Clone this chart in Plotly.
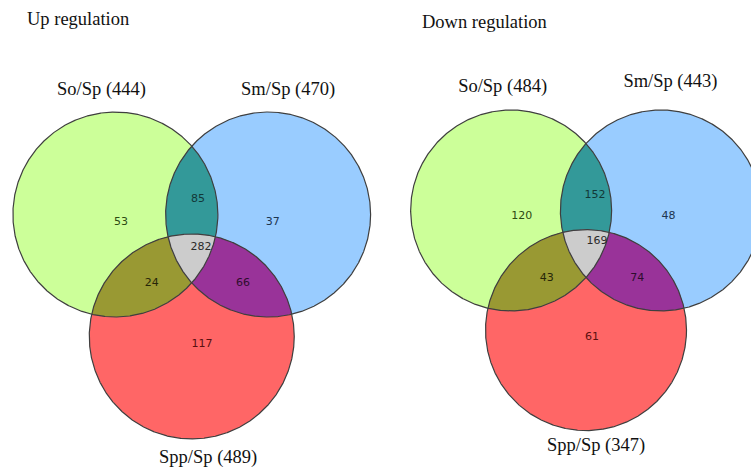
import numpy as np
import plotly.graph_objects as go

# ---------------- data ----------------
panel_titles = ["Up regulation", "Down regulation"]
set_names = ["So/Sp", "Sm/Sp", "Spp/Sp"]
up_totals = [444, 470, 489]
down_totals = [484, 443, 347]
# region order: A only, AB, B only, ABC, AC, BC, C only
region_keys = ["A", "AB", "B", "ABC", "AC", "BC", "C"]
up_counts = [53, 85, 37, 282, 24, 66, 117]
down_counts = [120, 152, 48, 169, 43, 74, 61]

# ---------------- layout / style ----------------
W, H = 751, 471
circle_centers = [(-0.745, 0.0), (0.745, 0.0), (0.0, -1.19)]  # unit radius
fill_single = ["#ccff99", "#99ccff", "#ff6666"]
fill_pair = {"AB": "#339999", "AC": "#999933", "BC": "#993399"}
fill_triple = "#cccccc"
text_colors = {"A": "#2d4a12", "AB": "#123838", "B": "#1d3550", "ABC": "#2a2a2a",
               "AC": "#262608", "BC": "#2e0d2e", "C": "#5a1010"}
# label positions in unit coordinates per panel
label_pos = [
    [(-0.69, -0.08), (0.06, 0.15), (0.79, -0.08), (0.09, -0.32), (-0.39, -0.67), (0.50, -0.67), (0.10, -1.27)],
    [(-0.64, -0.06), (0.09, 0.15), (0.82, -0.06), (0.11, -0.31), (-0.39, -0.67), (0.51, -0.67), (0.06, -1.26)],
]
# pixel anchors for each panel: (origin x px, origin y px, px per unit, panel x0 px, panel x1 px)
panels_px = [(191.75, 214.5, 102.5, 0, 375), (586.0, 210.5, 100.5, 375, 751)]
set_label_pos = [
    [(-0.88, 1.21), (0.94, 1.21), (0.16, -2.38)],
    [(-0.83, 1.23), (0.84, 1.27), (0.10, -2.35)],
]
title_px = [(25, 19), (420, 22)]

t = np.linspace(0, 2 * np.pi, 1441)


def circle_pts(c):
    return np.c_[c[0] + np.cos(t), c[1] + np.sin(t)]


def inside(p, c):
    return (p[:, 0] - c[0]) ** 2 + (p[:, 1] - c[1]) ** 2 <= 1.0 + 1e-9


def intersection(idx):
    pts = []
    for i in idx:
        p = circle_pts(circle_centers[i])
        m = np.ones(len(p), bool)
        for j in idx:
            if j != i:
                m &= inside(p, circle_centers[j])
        pts.append(p[m])
    pts = np.vstack(pts)
    cen = pts.mean(axis=0)
    ang = np.arctan2(pts[:, 1] - cen[1], pts[:, 0] - cen[0])
    pts = pts[np.argsort(ang)]
    return np.vstack([pts, pts[:1]])


fig = go.Figure()

for k in range(2):
    ox, oy, s, x0, x1 = panels_px[k]
    xa = "x" if k == 0 else "x2"
    ya = "y" if k == 0 else "y2"
    counts = up_counts if k == 0 else down_counts
    totals = up_totals if k == 0 else down_totals

    def add_fill(poly, color):
        fig.add_trace(go.Scatter(x=poly[:, 0], y=poly[:, 1], mode="lines", fill="toself",
                                 fillcolor=color, line=dict(width=0), hoverinfo="skip",
                                 showlegend=False, xaxis=xa, yaxis=ya))

    for i in range(3):
        add_fill(circle_pts(circle_centers[i]), fill_single[i])
    add_fill(intersection([0, 1]), fill_pair["AB"])
    add_fill(intersection([0, 2]), fill_pair["AC"])
    add_fill(intersection([1, 2]), fill_pair["BC"])
    add_fill(intersection([0, 1, 2]), fill_triple)
    for i in range(3):
        p = circle_pts(circle_centers[i])
        fig.add_trace(go.Scatter(x=p[:, 0], y=p[:, 1], mode="lines",
                                 line=dict(color="#3f3f3f", width=1.2), hoverinfo="skip",
                                 showlegend=False, xaxis=xa, yaxis=ya))
    # region counts
    fig.add_trace(go.Scatter(
        x=[p[0] for p in label_pos[k]], y=[p[1] for p in label_pos[k]],
        text=[str(v) for v in counts], mode="text",
        textfont=dict(family="DejaVu Sans", size=11,
                      color=[text_colors[r] for r in region_keys]),
        hoverinfo="skip", showlegend=False, xaxis=xa, yaxis=ya))
    # set labels
    fig.add_trace(go.Scatter(
        x=[p[0] for p in set_label_pos[k]], y=[p[1] for p in set_label_pos[k]],
        text=[f"{n} ({v})" for n, v in zip(set_names, totals)], mode="text",
        textfont=dict(family="Liberation Serif", size=18.5, color="#111111"),
        hoverinfo="skip", showlegend=False, xaxis=xa, yaxis=ya))

    xr = [(x0 - ox) / s, (x1 - ox) / s]
    yr = [(oy - H) / s, oy / s]
    axis_common = dict(visible=False, showgrid=False, zeroline=False, fixedrange=True)
    fig.update_layout(**{
        ("xaxis" if k == 0 else "xaxis2"): dict(range=xr, domain=[x0 / W, x1 / W], anchor=ya, **axis_common),
        ("yaxis" if k == 0 else "yaxis2"): dict(range=yr, domain=[0, 1], anchor=xa, **axis_common),
    })
    fig.add_annotation(x=title_px[k][0] / W, y=1 - title_px[k][1] / H, xref="paper", yref="paper",
                       text=panel_titles[k], showarrow=False, xanchor="left", yanchor="middle",
                       font=dict(family="Liberation Serif", size=18.5, color="#111111"))

fig.update_layout(width=W, height=H, margin=dict(l=0, r=0, t=0, b=0),
                  paper_bgcolor="white", plot_bgcolor="white", showlegend=False)

fig.write_html("out.html",
               config={"displayModeBar": False},
               post_script="document.body.style.margin='0px';document.body.style.overflow='hidden';")
